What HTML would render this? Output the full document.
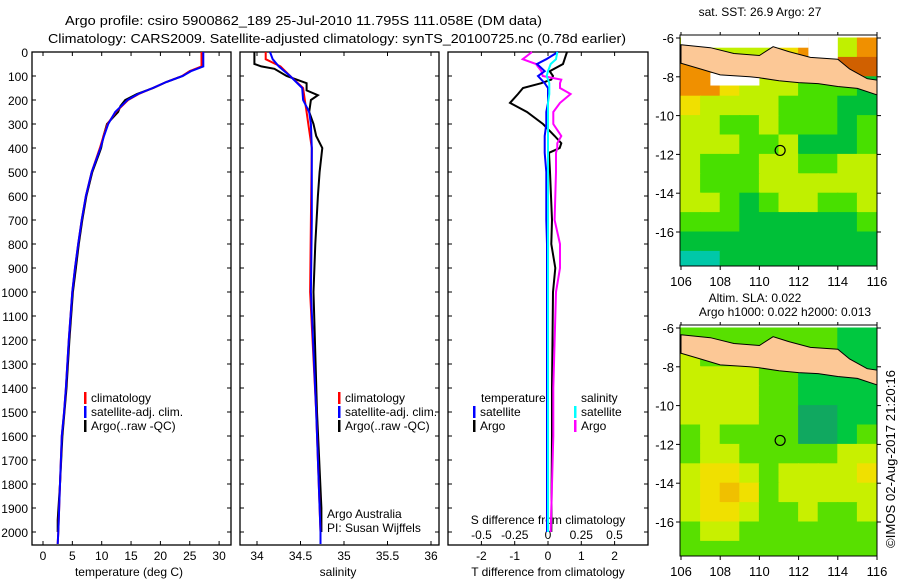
<!DOCTYPE html>
<html><head><meta charset="utf-8"><style>
html,body{margin:0;padding:0;background:#fff;}
svg{display:block;font-family:"Liberation Sans",sans-serif;}
</style></head><body>
<svg id="chart" width="900" height="580" viewBox="0 0 900 580" xmlns="http://www.w3.org/2000/svg">
<text x="65" y="25" font-size="13" textLength="477" lengthAdjust="spacingAndGlyphs">Argo profile: csiro 5900862_189 25-Jul-2010 11.795S 111.058E (DM data)</text>
<text x="48" y="43" font-size="13" textLength="578" lengthAdjust="spacingAndGlyphs">Climatology: CARS2009. Satellite-adjusted climatology: synTS_20100725.nc (0.78d earlier)</text>
<g id="g"></g>
</svg>
<script>
// ---------- data ----------
const depthT = [0,60,80,100,125,150,175,200,250,300,350,400,500,600,700,800,900,1000,1200,1400,1500,1600,1800,2000,2050];
const tempClim = [27.0,27.0,25.0,23.7,21.0,18.7,16.3,14.5,12.4,11.0,10.3,9.7,8.3,7.3,6.6,6.0,5.45,5.0,4.4,3.9,3.6,3.2,2.9,2.6,2.5];
const tempSat  = [27.3,27.3,25.2,23.8,21.0,18.7,16.2,14.4,12.3,11.1,10.4,9.8,8.3,7.3,6.6,6.0,5.45,5.0,4.4,3.9,3.6,3.2,2.9,2.6,2.5];
const depthA = [0,60,80,100,125,150,175,200,225,250,300,350,400,420,500,600,700,800,900,1000,1200,1400,1600,1800,1950,2000];
const tempArgo = [27.2,27.2,25.0,23.8,21.0,18.8,16.0,14.0,13.2,12.8,10.9,10.3,9.9,9.6,8.4,7.4,6.7,6.1,5.6,5.1,4.5,4.0,3.3,2.9,2.5,2.5];
const depthS = [0,30,60,100,150,200,250,300,400,700,1000,1500,2000,2050];
const salClim = [34.10,34.10,34.27,34.38,34.53,34.55,34.57,34.59,34.63,34.62,34.61,34.68,34.73,34.73];
const salSat  = [34.15,34.18,34.25,34.38,34.52,34.53,34.60,34.62,34.63,34.63,34.62,34.68,34.73,34.73];
const depthSA = [0,50,60,70,100,130,160,180,200,250,300,350,400,500,600,800,1000,1500,1900,2000];
const salArgo = [33.97,33.97,34.05,34.2,34.34,34.57,34.57,34.70,34.62,34.60,34.65,34.68,34.75,34.72,34.70,34.67,34.65,34.69,34.74,34.74];
const depthD = [0,30,50,80,100,115,130,150,175,212,250,300,350,380,400,420,500,700,800,900,1000,1400,1600,2000];
const dTsat  = [0.3,-0.05,-0.33,-0.1,-0.3,-0.2,-0.1,0,0,0,-0.05,-0.05,-0.1,-0.1,-0.1,-0.1,-0.05,-0.05,-0.03,-0.03,-0.03,-0.03,-0.03,-0.03];
const dTargo = [0.57,0.5,0.45,0.05,0.15,0.1,-0.2,-0.75,-0.9,-1.14,-0.63,-0.15,0.2,0.4,0.35,0.03,0.06,0.12,0.1,0.22,0.15,0.12,0.12,0.1];
const dSsat  = [0.07,0.06,0.02,0,-0.01,0,0.01,0.01,0.01,0,0,0,0,0,0,0,0,0,0,0,0,0,0,0];
const dSargo = [-0.12,-0.19,-0.09,-0.05,-0.04,0.1,0.09,0.09,0.17,0.09,0.04,0.04,0.1,0.07,0.07,0.06,0.06,0.05,0.09,0.09,0.06,0.04,0.04,0.02];
const depthTicks = [0,100,200,300,400,500,600,700,800,900,1000,1100,1200,1300,1400,1500,1600,1700,1800,1900,2000];
const tempTicks = [0,5,10,15,20,25,30];
const salTicks = [34,34.5,35,35.5,36];
const tdTicks = [-2,-1,0,1,2];
const sdTickLabels = ["-0.5","-0.25","0","0.25","0.5"];
const sdTicks = [-0.5,-0.25,0,0.25,0.5];
const lonTicks = [106,108,110,112,114,116];
const latTicks = [-6,-8,-10,-12,-14,-16];
const sstGrid = [
[3,3,3,3,3,4,5,4,3,5,3],
[5,5,3,3,3,3,3,3,6,6,6],
[5,5,4,3,3,3,2,2,2,1,1],
[4,3,3,3,3,2,2,2,1,1,1],
[3,3,2,2,3,2,2,2,1,2,2],
[3,3,3,2,2,3,1,1,1,2,2],
[3,2,2,2,3,3,2,2,3,3,3],
[3,2,2,2,3,3,3,3,3,3,3],
[3,3,2,1,2,3,3,2,2,3,3],
[2,2,2,1,1,1,1,1,1,2,2],
[1,1,1,1,1,1,1,1,1,1,1],
[0,0,1,1,1,1,1,1,1,1,1]];
const slaGrid = [
[2,2,2,2,2,2,2,2,1,1,1],
[3,2,2,2,2,2,2,2,1,1,1],
[3,3,3,3,2,2,1,1,1,1,1],
[3,3,3,3,2,2,1,1,1,1,2],
[3,3,3,3,2,2,0,0,1,1,2],
[2,3,2,2,2,2,0,0,1,2,2],
[2,3,3,2,2,2,2,2,3,3,3],
[3,4,4,3,2,3,3,3,3,4,4],
[3,4,5,4,2,3,3,3,3,3,3],
[3,4,4,3,2,2,3,2,2,3,3],
[2,3,3,2,2,2,2,2,2,2,3],
[2,2,2,2,2,2,2,2,2,2,1]];
const sstColors = ["#00c8a8","#00c038","#48e000","#c0f000","#f0e000","#f09000","#d06000"];
const slaColors = ["#10a860","#00c840","#58e000","#c8f000","#f0e000","#f0c000"];
const javaLon = [106,107.5,108.7,110,110.7,111.5,112.6,114,114.6,115.5,116.2,116.2,115,114,113,112,111,110,109.5,108,107,106];
const javaLat = [-6.35,-6.5,-6.8,-6.9,-6.45,-6.7,-7.0,-7.1,-7.6,-8.1,-8.2,-9.0,-8.6,-8.5,-8.35,-8.3,-8.2,-8.05,-8.0,-7.9,-7.6,-7.3];
const argoLon = 111.058, argoLat = -11.795;

// ---------- helpers ----------
const NS="http://www.w3.org/2000/svg";
const G=document.getElementById('g');
function el(t,a,p){const e=document.createElementNS(NS,t);for(const k in a)e.setAttribute(k,a[k]);(p||G).appendChild(e);return e;}
function txt(x,y,s,anchor,size){const e=el('text',{x:x,y:y,'font-size':size||12,'text-anchor':anchor||'start'});e.textContent=s;return e;}
const yD=d=>52+d*0.24;
const xT=v=>43+v*5.87;
const xS=v=>257+(v-34)*87;
const xTd=v=>548+v*33.3;
const xSd=v=>548+v*133;

function line(xs,ys,fx,color,name){
  const pts=xs.map((v,i)=>fx(v).toFixed(1)+','+yD(ys[i]).toFixed(1)).join(' ');
  const e=el('polyline',{points:pts,fill:'none',stroke:color,'stroke-width':2});
  
  
}
function frame(x0,x1,name){
  const r=el('rect',{x:x0,y:52,width:x1-x0,height:493,fill:'none',stroke:'#000','stroke-width':1.3});
  
  
  depthTicks.forEach(d=>{el('line',{x1:x0,x2:x0+4,y1:yD(d),y2:yD(d),stroke:'#000'});el('line',{x1:x1,x2:x1-4,y1:yD(d),y2:yD(d),stroke:'#000'});});
}
function legend(x,y,items){
  items.forEach((it,i)=>{el('rect',{x:x,y:y+i*14-10,width:2.5,height:12,fill:it[0]});const t=txt(x+7,y+i*14,it[1]);
  
  });
}

// ---------- panel 1: temperature ----------
frame(32,231,'temperature-panel');
depthTicks.forEach(d=>{const t=txt(28,yD(d)+5,String(d),'end',12);

});
tempTicks.forEach(v=>{el('line',{x1:xT(v),x2:xT(v),y1:545,y2:541,stroke:'#000'});el('line',{x1:xT(v),x2:xT(v),y1:52,y2:56,stroke:'#000'});txt(xT(v),560,String(v),'middle');});
const xl1=txt(129,576,'temperature (deg C)','middle');


line(tempArgo,depthA,xT,'#000','argo-temperature-line');
line(tempClim,depthT,xT,'#f00','climatology-temperature-line');
line(tempSat,depthT,xT,'#00f','satellite-temperature-line');
legend(84,402,[['#f00','climatology'],['#00f','satellite-adj. clim.'],['#000','Argo(..raw -QC)']]);

// ---------- panel 2: salinity ----------
frame(240,439,'salinity-panel');
salTicks.forEach(v=>{el('line',{x1:xS(v),x2:xS(v),y1:545,y2:541,stroke:'#000'});el('line',{x1:xS(v),x2:xS(v),y1:52,y2:56,stroke:'#000'});txt(xS(v),560,String(v),'middle');});
const xl2=txt(338,576,'salinity','middle');


line(salArgo,depthSA,xS,'#000','argo-salinity-line');
line(salClim,depthS,xS,'#f00','climatology-salinity-line');
line(salSat,depthS,xS,'#00f','satellite-salinity-line');
legend(338,402,[['#f00','climatology'],['#00f','satellite-adj. clim.'],['#000','Argo(..raw -QC)']]);
txt(327,518,'Argo Australia');txt(327,532,'PI: Susan Wijffels');

// ---------- panel 3: differences ----------
frame(448,648,'difference-panel');
tdTicks.forEach(v=>{el('line',{x1:xTd(v),x2:xTd(v),y1:545,y2:541,stroke:'#000'});el('line',{x1:xTd(v),x2:xTd(v),y1:52,y2:56,stroke:'#000'});txt(xTd(v),560,String(v),'middle');});
sdTicks.forEach((v,i)=>txt(xSd(v),539,sdTickLabels[i],'middle'));
txt(548,524,'S difference from climatology','middle');
const xl3=txt(548,576,'T difference from climatology','middle');


line(dTargo,depthD,xTd,'#000','argo-temp-diff-line');
line(dSargo,depthD,xSd,'#f0f','argo-sal-diff-line');
line(dTsat,depthD,xTd,'#00f','satellite-temp-diff-line');
line(dSsat,depthD,xSd,'#0ff','satellite-sal-diff-line');
txt(481,402,'temperature');txt(581,402,'salinity');
legend(473,416,[['#00f','satellite'],['#000','Argo']]);
legend(574,416,[['#0ff','satellite'],['#f0f','Argo']]);

// ---------- maps ----------
function map(top,grid,colors,name,white){
  const lat6=top+3, ppl=19.4;
  const mx=v=>681+(v-106)*19.6, my=v=>lat6+(-6-v)*ppl;
  const g=el('g',{});
  
  
  const cp=el('clipPath',{id:'c'+top},g);el('rect',{x:680,y:top,width:197,height:231},cp);
  const gc=el('g',{'clip-path':'url(#c'+top+')'},g);
  grid.forEach((row,r)=>row.forEach((v,c)=>{
    const cell=el('rect',{x:mx(106+c)-0.5,y:my(-6-r)-0.5,width:20.6,height:20.4,fill:colors[v]},gc);
    
    
  }));
  if(white){el('rect',{x:mx(106),y:top,width:mx(112.5)-mx(106),height:my(-6.5)-top,fill:'#fff'},gc);
    el('rect',{x:mx(112.5),y:top,width:mx(114)-mx(112.5),height:my(-7.2)-top,fill:'#fff'},gc);
    el('rect',{x:mx(107.5),y:my(-7.8),width:mx(110)-mx(107.5),height:my(-8.45)-my(-7.8),fill:'#fff'},gc);}
  const pts=javaLon.map((v,i)=>mx(v).toFixed(1)+','+my(javaLat[i]).toFixed(1)).join(' ');
  const land=el('polygon',{points:pts,fill:'#fcc896',stroke:'#000','stroke-width':1},gc);
  
  
  el('rect',{x:680,y:top,width:197,height:231,fill:'none',stroke:'#000'},g);
  lonTicks.forEach(v=>{el('line',{x1:mx(v),x2:mx(v),y1:top+231,y2:top+235,stroke:'#000'},g);el('line',{x1:mx(v),x2:mx(v),y1:top,y2:top-3,stroke:'#000'},g);const t=txt(mx(v),top+251,String(v),'middle',13);});
  latTicks.forEach(v=>{el('line',{x1:680,x2:676,y1:my(v),y2:my(v),stroke:'#000'},g);el('line',{x1:877,x2:881,y1:my(v),y2:my(v),stroke:'#000'},g);txt(674,my(v)+5,String(v),'end',13);});
  const c=el('circle',{cx:mx(argoLon),cy:my(argoLat),r:5,fill:'none',stroke:'#000','stroke-width':1.2},g);
  
  
}
map(35,sstGrid,sstColors,'sst-map',true);
txt(760,16,'sat. SST: 26.9 Argo: 27','middle');
map(325,slaGrid,slaColors,'sla-map',false);
txt(755,302,'Altim. SLA: 0.022','middle');
txt(785,316,'Argo h1000: 0.022 h2000: 0.013','middle');
const cr=el('text',{x:0,y:0,'font-size':13,textLength:178,lengthAdjust:'spacingAndGlyphs',transform:'translate(895,548) rotate(-90)'});
cr.textContent='©IMOS 02-Aug-2017 21:20:16';


</script>
</body></html>
